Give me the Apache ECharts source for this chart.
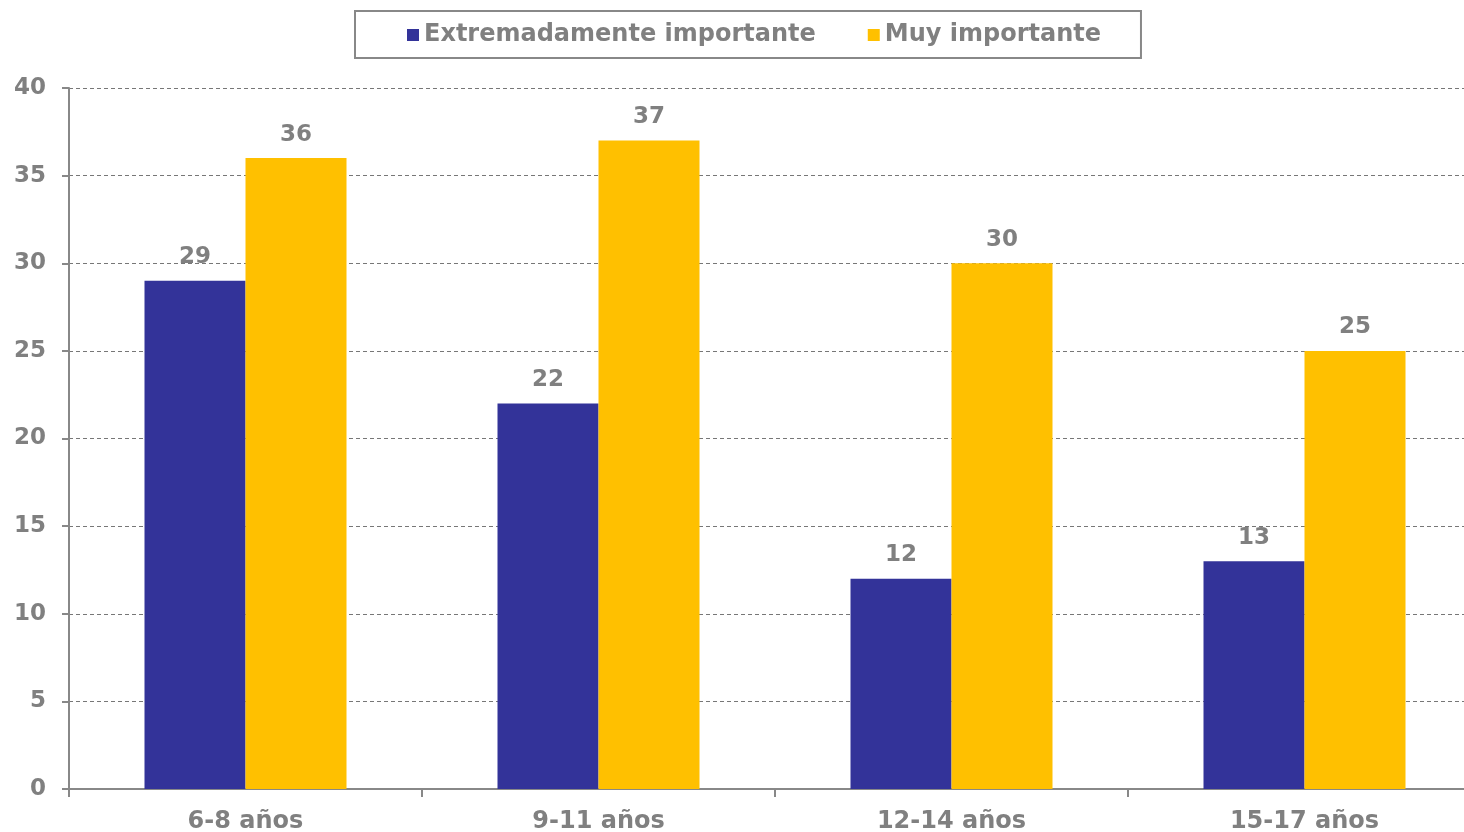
<!DOCTYPE html>
<html>
<head>
<meta charset="utf-8">
<script src="https://cdn.jsdelivr.net/npm/echarts@6/dist/echarts.min.js"></script>
<style>html,body{margin:0;padding:0;background:#fff}#c{width:1464px;height:832px}</style>
</head>
<body>
<div id="c"></div>
<script>
var categories = ['6-8 años', '9-11 años', '12-14 años', '15-17 años'];
var seriesNames = ['Extremadamente importante', 'Muy importante'];
var extremadamente = [29, 22, 12, 13];
var muy = [36, 37, 30, 25];

var FONT = 'DejaVu Sans';
var GRAY = '#808080';
var chart = echarts.init(document.getElementById('c'));
chart.setOption({
  animation: false,
  textStyle: { fontFamily: FONT },
  legend: {
    left: 355, top: 11,
    padding: [12, 40, 11, 52],
    borderColor: '#888', borderWidth: 2,
    itemWidth: 12, itemHeight: 12, itemGap: 52,
    icon: 'rect',
    textStyle: { color: GRAY, fontSize: 24, fontWeight: 'bold', fontFamily: FONT },
    data: seriesNames
  },
  grid: { left: 69, top: 88, width: 1412, height: 701, containLabel: false, outerBoundsMode: 'none' },
  xAxis: {
    type: 'category', data: categories,
    axisLine: { lineStyle: { color: '#888', width: 2 } },
    axisTick: { show: true, length: 8, lineStyle: { color: '#888', width: 2 } },
    axisLabel: { color: GRAY, fontSize: 24, fontWeight: 'bold', margin: 21 }
  },
  yAxis: {
    type: 'value', min: 0, max: 40, interval: 5,
    axisLine: { show: true, lineStyle: { color: '#888', width: 2 } },
    axisTick: { show: true, length: 7, lineStyle: { color: '#888', width: 2 } },
    axisLabel: { color: GRAY, fontSize: 23, fontWeight: 'bold', margin: 23 },
    splitLine: { lineStyle: { color: '#777', type: [4, 3], width: 1 } }
  },
  series: [
    {
      name: seriesNames[0], type: 'bar', data: extremadamente,
      barWidth: 101, barGap: '0%',
      itemStyle: { color: '#333399' },
      label: { show: true, position: 'top', distance: 12, color: GRAY, fontSize: 23, fontWeight: 'bold' }
    },
    {
      name: seriesNames[1], type: 'bar', data: muy,
      barWidth: 101, barGap: '0%',
      itemStyle: { color: '#FFC000' },
      label: { show: true, position: 'top', distance: 12, color: GRAY, fontSize: 23, fontWeight: 'bold' }
    }
  ]
});
</script>
</body>
</html>
